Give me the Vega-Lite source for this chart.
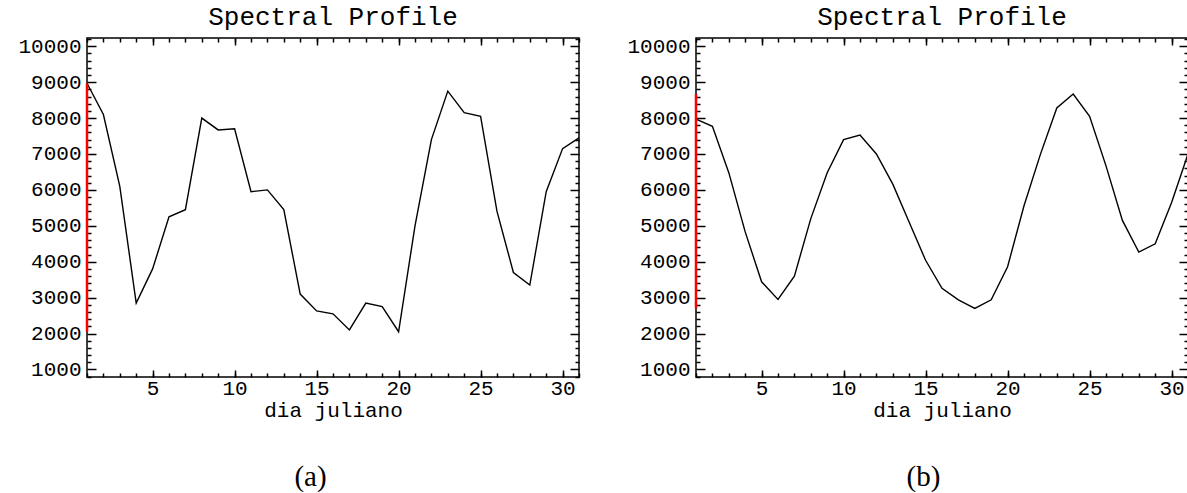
{
  "$schema": "https://vega.github.io/schema/vega-lite/v6.json",
  "padding": {"left": 17, "top": 3, "right": 0, "bottom": 0},
  "background": "white",
  "spacing": 43,
  "config": {
    "view": {"stroke": "black", "strokeWidth": 1.5},
    "title": {"font": "Liberation Mono", "fontSize": 26, "fontWeight": "normal", "color": "black", "anchor": "middle", "frame": "group", "offset": 5},
    "axis": {"domain": false, "grid": false, "format": "d", "labelFont": "Liberation Mono", "labelFontSize": 21, "labelColor": "black", "tickColor": "black", "tickWidth": 1.5, "titleFont": "Liberation Mono", "titleFontSize": 21, "titleFontWeight": "normal", "titleColor": "black", "labelFlush": false, "labelOverlap": false}
  },
  "datasets": {
    "a": [
      {"day": 1, "value": 8970}, {"day": 2, "value": 8100}, {"day": 3, "value": 6100}, {"day": 4, "value": 2850},
      {"day": 5, "value": 3800}, {"day": 6, "value": 5250}, {"day": 7, "value": 5450}, {"day": 8, "value": 8000},
      {"day": 9, "value": 7670}, {"day": 10, "value": 7700}, {"day": 11, "value": 5950}, {"day": 12, "value": 6000},
      {"day": 13, "value": 5450}, {"day": 14, "value": 3100}, {"day": 15, "value": 2630}, {"day": 16, "value": 2550},
      {"day": 17, "value": 2100}, {"day": 18, "value": 2850}, {"day": 19, "value": 2750}, {"day": 20, "value": 2050},
      {"day": 21, "value": 5000}, {"day": 22, "value": 7400}, {"day": 23, "value": 8750}, {"day": 24, "value": 8150},
      {"day": 25, "value": 8050}, {"day": 26, "value": 5400}, {"day": 27, "value": 3700}, {"day": 28, "value": 3350},
      {"day": 29, "value": 5950}, {"day": 30, "value": 7150}, {"day": 31, "value": 7450}
    ],
    "b": [
      {"day": 1, "value": 7970}, {"day": 2, "value": 7770}, {"day": 3, "value": 6480}, {"day": 4, "value": 4830},
      {"day": 5, "value": 3440}, {"day": 6, "value": 2950}, {"day": 7, "value": 3600}, {"day": 8, "value": 5200},
      {"day": 9, "value": 6480}, {"day": 10, "value": 7400}, {"day": 11, "value": 7530}, {"day": 12, "value": 7000},
      {"day": 13, "value": 6160}, {"day": 14, "value": 5100}, {"day": 15, "value": 4040}, {"day": 16, "value": 3260},
      {"day": 17, "value": 2940}, {"day": 18, "value": 2700}, {"day": 19, "value": 2940}, {"day": 20, "value": 3860},
      {"day": 21, "value": 5560}, {"day": 22, "value": 6990}, {"day": 23, "value": 8280}, {"day": 24, "value": 8670},
      {"day": 25, "value": 8050}, {"day": 26, "value": 6670}, {"day": 27, "value": 5150}, {"day": 28, "value": 4270},
      {"day": 29, "value": 4500}, {"day": 30, "value": 5650}, {"day": 31, "value": 7000}
    ]
  },
  "hconcat": [
    {
      "width": 492, "height": 339,
      "title": "Spectral Profile",
      "data": {"name": "a"},
      "resolve": {"axis": {"x": "independent", "y": "independent"}},
      "layer": [
        {
          "mark": {"type": "line", "color": "black", "strokeWidth": 1.4},
          "encoding": {
            "x": {"field": "day", "type": "quantitative", "scale": {"domain": [1, 31], "nice": false, "zero": false},
                  "axis": {"orient": "bottom", "values": [5, 10, 15, 20, 25, 30], "tickSize": -7, "labelPadding": 7, "title": "dia juliano", "titlePadding": 1}},
            "y": {"field": "value", "type": "quantitative", "scale": {"domain": [790, 10230], "nice": false, "zero": false},
                  "axis": {"orient": "left", "values": [1000, 2000, 3000, 4000, 5000, 6000, 7000, 8000, 9000, 10000], "tickSize": -9, "labelPadding": 15, "title": null}}
          }
        },
        {
          "mark": {"type": "rule", "color": "#ff0000", "strokeWidth": 2.5},
          "encoding": {
            "x": {"datum": 1, "type": "quantitative", "axis": null},
            "y": {"aggregate": "min", "field": "value", "type": "quantitative", "axis": null},
            "y2": {"aggregate": "max", "field": "value"}
          }
        },
        {
          "mark": {"type": "line", "opacity": 0},
          "encoding": {
            "x": {"field": "day", "type": "quantitative",
                  "axis": {"orient": "bottom", "values": [1,2,3,4,5,6,7,8,9,10,11,12,13,14,15,16,17,18,19,20,21,22,23,24,25,26,27,28,29,30,31], "tickSize": -4, "labels": false, "title": "(a)", "titleFont": "Liberation Serif", "titleFontSize": 29, "titleX": 223, "titleY": 85, "titleAlign": "center", "titleBaseline": "top"}},
            "y": {"field": "value", "type": "quantitative",
                  "axis": {"orient": "left", "values": [800,1200,1400,1600,1800,2200,2400,2600,2800,3200,3400,3600,3800,4200,4400,4600,4800,5200,5400,5600,5800,6200,6400,6600,6800,7200,7400,7600,7800,8200,8400,8600,8800,9200,9400,9600,9800,10200], "tickSize": -4, "labels": false, "title": null}}
          }
        },
        {
          "mark": {"type": "line", "opacity": 0},
          "encoding": {
            "x": {"field": "day", "type": "quantitative",
                  "axis": {"orient": "top", "values": [5, 10, 15, 20, 25, 30], "tickSize": -7, "labels": false, "title": null}},
            "y": {"field": "value", "type": "quantitative",
                  "axis": {"orient": "right", "values": [1000, 2000, 3000, 4000, 5000, 6000, 7000, 8000, 9000, 10000], "tickSize": -9, "labels": false, "title": null}}
          }
        },
        {
          "mark": {"type": "line", "opacity": 0},
          "encoding": {
            "x": {"field": "day", "type": "quantitative",
                  "axis": {"orient": "top", "values": [1,2,3,4,5,6,7,8,9,10,11,12,13,14,15,16,17,18,19,20,21,22,23,24,25,26,27,28,29,30,31], "tickSize": -4, "labels": false, "title": null}},
            "y": {"field": "value", "type": "quantitative",
                  "axis": {"orient": "right", "values": [800,1200,1400,1600,1800,2200,2400,2600,2800,3200,3400,3600,3800,4200,4400,4600,4800,5200,5400,5600,5800,6200,6400,6600,6800,7200,7400,7600,7800,8200,8400,8600,8800,9200,9400,9600,9800,10200], "tickSize": -4, "labels": false, "title": null}}
          }
        }
      ]
    },
    {
      "width": 492, "height": 339,
      "title": "Spectral Profile",
      "data": {"name": "b"},
      "resolve": {"axis": {"x": "independent", "y": "independent"}},
      "layer": [
        {
          "mark": {"type": "line", "color": "black", "strokeWidth": 1.4},
          "encoding": {
            "x": {"field": "day", "type": "quantitative", "scale": {"domain": [1, 31], "nice": false, "zero": false},
                  "axis": {"orient": "bottom", "values": [5, 10, 15, 20, 25, 30], "tickSize": -7, "labelPadding": 7, "title": "dia juliano", "titlePadding": 1}},
            "y": {"field": "value", "type": "quantitative", "scale": {"domain": [790, 10230], "nice": false, "zero": false},
                  "axis": {"orient": "left", "values": [1000, 2000, 3000, 4000, 5000, 6000, 7000, 8000, 9000, 10000], "tickSize": -9, "labelPadding": 15, "title": null}}
          }
        },
        {
          "mark": {"type": "rule", "color": "#ff0000", "strokeWidth": 2.5},
          "encoding": {
            "x": {"datum": 1, "type": "quantitative", "axis": null},
            "y": {"aggregate": "min", "field": "value", "type": "quantitative", "axis": null},
            "y2": {"aggregate": "max", "field": "value"}
          }
        },
        {
          "mark": {"type": "line", "opacity": 0},
          "encoding": {
            "x": {"field": "day", "type": "quantitative",
                  "axis": {"orient": "bottom", "values": [1,2,3,4,5,6,7,8,9,10,11,12,13,14,15,16,17,18,19,20,21,22,23,24,25,26,27,28,29,30,31], "tickSize": -4, "labels": false, "title": "(b)", "titleFont": "Liberation Serif", "titleFontSize": 29, "titleX": 227, "titleY": 85, "titleAlign": "center", "titleBaseline": "top"}},
            "y": {"field": "value", "type": "quantitative",
                  "axis": {"orient": "left", "values": [800,1200,1400,1600,1800,2200,2400,2600,2800,3200,3400,3600,3800,4200,4400,4600,4800,5200,5400,5600,5800,6200,6400,6600,6800,7200,7400,7600,7800,8200,8400,8600,8800,9200,9400,9600,9800,10200], "tickSize": -4, "labels": false, "title": null}}
          }
        },
        {
          "mark": {"type": "line", "opacity": 0},
          "encoding": {
            "x": {"field": "day", "type": "quantitative",
                  "axis": {"orient": "top", "values": [5, 10, 15, 20, 25, 30], "tickSize": -7, "labels": false, "title": null}},
            "y": {"field": "value", "type": "quantitative",
                  "axis": {"orient": "right", "values": [1000, 2000, 3000, 4000, 5000, 6000, 7000, 8000, 9000, 10000], "tickSize": -9, "labels": false, "title": null}}
          }
        },
        {
          "mark": {"type": "line", "opacity": 0},
          "encoding": {
            "x": {"field": "day", "type": "quantitative",
                  "axis": {"orient": "top", "values": [1,2,3,4,5,6,7,8,9,10,11,12,13,14,15,16,17,18,19,20,21,22,23,24,25,26,27,28,29,30,31], "tickSize": -4, "labels": false, "title": null}},
            "y": {"field": "value", "type": "quantitative",
                  "axis": {"orient": "right", "values": [800,1200,1400,1600,1800,2200,2400,2600,2800,3200,3400,3600,3800,4200,4400,4600,4800,5200,5400,5600,5800,6200,6400,6600,6800,7200,7400,7600,7800,8200,8400,8600,8800,9200,9400,9600,9800,10200], "tickSize": -4, "labels": false, "title": null}}
          }
        }
      ]
    }
  ]
}
